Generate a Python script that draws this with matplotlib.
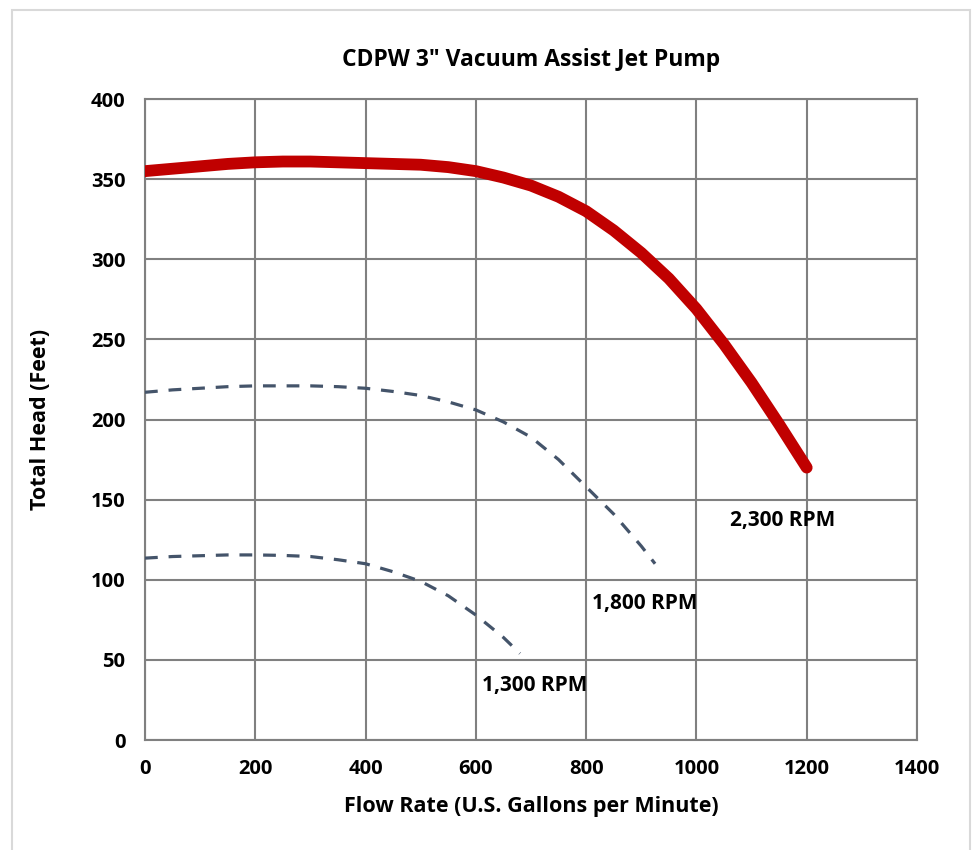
import matplotlib.pyplot as plt
from matplotlib.patches import Rectangle

plt.rcParams['font.family'] = ['Open Sans', 'DejaVu Sans']
plt.rcParams['font.weight'] = 'bold'

# --- data ---
flow_2300 = [0, 50, 100, 150, 200, 250, 300, 350, 400, 450, 500, 550, 600, 650, 700,
             750, 800, 850, 900, 950, 1000, 1050, 1100, 1150, 1200]
head_2300 = [355, 356.5, 358, 359.5, 360.5, 361, 361, 360.5, 360, 359.5, 359, 357.5, 355,
             351, 346, 339, 330, 318, 304, 288, 269, 247, 223, 197, 170]

flow_1800 = [0, 50, 100, 150, 200, 250, 300, 350, 400, 450, 500, 550, 600, 650, 700,
             750, 800, 850, 900, 925]
head_1800 = [217, 218.5, 219.5, 220.5, 221, 221, 221, 220.5, 219.5, 217.5, 215, 211, 206,
             198.5, 189, 175, 158, 141, 121, 110]

flow_1300 = [0, 50, 100, 150, 200, 250, 300, 350, 400, 450, 500, 550, 600, 650, 680]
head_1300 = [113.5, 114.5, 115, 115.5, 115.5, 115.2, 114.5, 112.5, 110, 105, 99, 90, 78,
             64, 54]

labels = ["2,300 RPM", "1,800 RPM", "1,300 RPM"]
label_pos = [(1061, 137), (811, 85), (611, 34)]

fig = plt.figure(figsize=(9.75, 8.5), dpi=100)
# outer chart border
fig.patches.append(Rectangle((0.012, -0.05), 0.983, 1.038, transform=fig.transFigure,
                             fill=False, edgecolor="#d9d9d9", linewidth=1.5))

ax = fig.add_axes([0.1487, 0.1294, 0.7918, 0.7541])

grid_c = "#808080"
ax.plot(flow_1800, head_1800, color="#44546A", lw=2.3, dashes=(4, 3.4), zorder=3)
ax.plot(flow_1300, head_1300, color="#44546A", lw=2.3, dashes=(4, 3.4), zorder=3)
ax.plot(flow_2300, head_2300, color="#C00000", lw=8.5, solid_capstyle="round",
        solid_joinstyle="round", zorder=4)

for t, (x, y) in zip(labels, label_pos):
    ax.text(x, y, t, fontsize=15, fontweight="bold", va="center", ha="left", zorder=5)

ax.set_xlim(0, 1400)
ax.set_ylim(0, 400)
ax.set_xticks(range(0, 1401, 200))
ax.set_yticks(range(0, 401, 50))
ax.grid(True, color=grid_c, linewidth=1.5)
ax.set_axisbelow(True)
for s in ax.spines.values():
    s.set_color(grid_c)
    s.set_linewidth(1.5)
ax.tick_params(length=0, labelsize=14.5, pad=14)
for lab in ax.get_xticklabels() + ax.get_yticklabels():
    lab.set_fontweight("bold")

ax.set_xlabel("Flow Rate (U.S. Gallons per Minute)", fontsize=15.5, fontweight="bold", labelpad=12)
ax.set_ylabel("Total Head (Feet)", fontsize=15.5, fontweight="bold", labelpad=29)
ax.set_title('CDPW 3" Vacuum Assist Jet Pump', fontsize=16.5, fontweight="bold", pad=24)

fig.savefig("out.png", dpi=100)
